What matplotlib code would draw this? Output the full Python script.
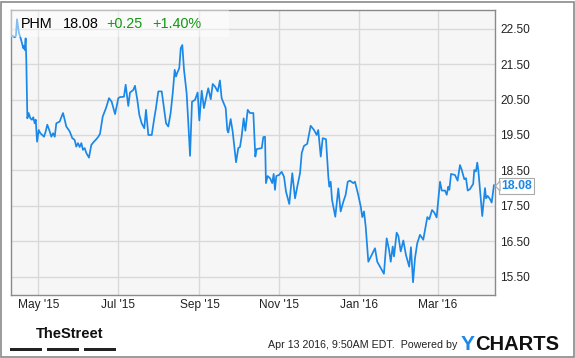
import pandas as pd
import matplotlib
matplotlib.use('Agg')
from matplotlib import pyplot as plt
import matplotlib.dates as mdates
from matplotlib.patches import Rectangle, Polygon

plt.rcParams['font.family'] = ['Liberation Sans', 'DejaVu Sans']

# days after 2015-04-10 and closing price
start = pd.Timestamp('2015-04-10')
days = [0, 3.1, 4.0, 4.8, 6.3, 7.6, 8.6, 9.6, 10.1, 10.7, 11.4, 11.9, 12.7, 13.7, 15.0,
        16.2, 17.2, 18.3, 19.1, 20.1, 21.4, 22.6, 24.1, 25.4, 26.7, 27.9, 29.4, 31.0,
        32.3, 33.6, 34.8, 37.4, 38.6, 39.9, 41.2, 42.4, 45.0, 47.0, 48.8, 50.0, 51.3,
        52.6, 53.9, 55.1, 56.4, 57.7, 59.7, 61.5, 63.5, 65.3, 66.8, 68.1, 70.2, 72.7,
        75.0, 77.0, 79.6, 82.1, 83.4, 86.4, 87.7, 89.7, 91.0, 93.5, 94.8, 96.6, 98.1,
        99.9, 101.9, 103.2, 105.0, 107.6, 109.5, 110.6, 112.6, 115.2, 116.4, 118.5,
        120.2, 122.0, 123.6, 125.1, 126.1, 127.1, 128.6, 129.7, 130.9, 132.2, 134.2,
        135.5, 136.8, 138.3, 140.6, 142.6, 143.9, 145.7, 147.4, 149.0, 150.7, 152.6,
        154.1, 155.8, 157.9, 159.6, 160.9, 162.2, 164.0, 165.2, 166.0, 167.8, 169.3,
        170.6, 171.9, 173.6, 174.9, 176.2, 177.7, 179.0, 180.8, 182.5, 185.1, 186.6,
        187.6, 191.5, 192.7, 194.0, 194.7, 196.0, 197.8, 199.5, 200.6, 201.6, 202.6,
        204.7, 206.7, 208.5, 210.0, 212.5, 214.8, 216.9, 218.6, 220.7, 222.0, 223.7,
        226.2, 228.8, 231.4, 233.4, 234.6, 236.5, 238.0, 240.5, 242.3, 243.0, 244.1,
        245.1, 247.6, 249.9, 251.7, 253.7, 255.5, 257.1, 258.8, 261.3, 262.6, 265.1,
        267.0, 268.2, 269.5, 270.8, 272.8, 274.8, 277.9, 279.6, 281.7, 284.7, 286.8,
        288.6, 289.9, 291.4, 292.4, 294.4, 295.7, 297.5, 299.5, 301.5, 304.0, 305.3,
        306.9, 308.4, 310.1, 312.2, 314.7, 317.8, 319.3, 321.4, 323.1, 324.9, 327.5,
        328.8, 331.3, 332.6, 333.8, 334.6, 335.9, 338.9, 340.9, 342.7, 344.0, 346.0,
        347.3, 348.6, 350.3, 352.8, 353.6, 354.9, 355.9, 356.7, 358.0, 359.7, 361.8,
        362.6, 363.8, 365.6, 366.9, 368.6]
price = [22.33, 22.26, 22.30, 22.77, 22.38, 22.23, 22.09, 21.95, 22.02, 21.90, 22.23,
         21.62, 19.97, 20.12, 19.97, 19.93, 20.00, 19.83, 19.93, 19.31, 19.64, 19.55,
         19.50, 19.45, 19.60, 19.79, 19.64, 19.45, 19.55, 19.45, 19.83, 19.88, 20.00,
         20.12, 19.93, 19.74, 19.60, 19.41, 19.36, 19.17, 19.27, 19.16, 19.27, 19.08,
         19.13, 18.99, 18.86, 19.22, 19.31, 19.38, 19.45, 19.53, 20.02, 20.26, 20.54,
         20.44, 20.09, 20.54, 20.57, 20.58, 20.92, 20.32, 20.70, 20.77, 20.89, 20.49,
         20.07, 19.83, 19.69, 20.21, 19.50, 19.50, 19.97, 20.21, 20.73, 20.73, 20.40,
         19.83, 19.74, 20.12, 20.68, 21.34, 21.15, 21.26, 21.39, 21.95, 22.04, 21.34,
         20.68, 19.83, 18.91, 20.44, 20.49, 20.70, 19.91, 20.75, 20.26, 20.54, 20.82,
         20.51, 20.94, 20.87, 20.73, 21.04, 20.54, 20.42, 20.26, 19.64, 19.57, 19.95,
         19.60, 19.17, 18.73, 19.13, 19.16, 19.47, 19.97, 19.62, 20.21, 20.12, 20.12,
         18.89, 19.10, 19.13, 19.44, 19.45, 18.14, 18.34, 18.28, 18.14, 18.40, 17.95,
         18.34, 18.37, 18.46, 18.32, 17.90, 17.55, 18.42, 17.71, 18.04, 18.42, 18.99,
         19.19, 19.25, 19.76, 19.64, 19.50, 19.64, 18.89, 19.41, 19.38, 18.32, 18.04,
         18.18, 17.67, 17.19, 17.99, 17.34, 17.61, 17.81, 18.18, 18.21, 18.14, 18.18,
         17.81, 17.48, 17.18, 17.34, 16.91, 15.92, 16.07, 16.30, 15.92, 15.78, 15.58,
         16.58, 16.26, 15.92, 16.35, 16.07, 16.74, 16.65, 16.21, 16.52, 16.11, 15.78,
         16.33, 15.34, 16.02, 16.44, 16.68, 16.54, 17.18, 17.12, 17.38, 17.31, 17.17,
         18.18, 17.93, 17.93, 17.81, 18.04, 17.95, 18.40, 18.37, 18.21, 18.65, 18.52,
         18.25, 18.28, 17.93, 17.97, 18.12, 18.51, 18.47, 18.72, 18.51, 17.95, 17.21,
         18.00, 17.71, 17.78, 17.69, 17.59, 18.08]

y_ticks = [15.5, 16.5, 17.5, 18.5, 19.5, 20.5, 21.5, 22.5]
ticker = 'PHM'
last = '18.08'
change = '+0.25'
change_pct = '+1.40%'
stamp = 'Apr 13 2016, 9:50AM EDT.  Powered by'

W, H = 575, 358
blue = '#1a88e8'
fig = plt.figure(figsize=(W / 100, H / 100), dpi=100)
fig.patch.set_facecolor('white')
# outer frame
fig.patches.append(Rectangle((1 / W, 1 / H), (W - 2) / W, (H - 2.5) / H, transform=fig.transFigure,
                             fill=False, edgecolor='#8a8a8a', linewidth=1.2))

ax = fig.add_axes([10.7 / W, 1 - 295 / H, 484 / W, 285 / H])
ax.set_facecolor('#f6f6f6')
dates = start + pd.to_timedelta(days, unit='D')
ax.plot(dates, price, color=blue, linewidth=1.25)

ax.set_xlim(start, start + pd.Timedelta(days=369.2))
ax.set_ylim(14.98, 23.03)
ax.set_yticks(y_ticks)
ax.set_yticklabels(['%.2f' % v for v in y_ticks])
ax.yaxis.tick_right()
ax.xaxis.set_major_locator(mdates.MonthLocator(bymonth=[1, 3, 5, 7, 9, 11]))
ax.xaxis.set_major_formatter(mdates.DateFormatter("%b '%y"))
ax.tick_params(length=0, labelsize=8.6, colors='#222222')
ax.tick_params(axis='y', pad=4)
ax.tick_params(axis='x', pad=3)
ax.grid(True, color='#d9d9d9', linewidth=1)
ax.set_axisbelow(True)
for s in ax.spines.values():
    s.set_color('#8a8a8a')
    s.set_linewidth(1)

# header band with quote
ax.add_patch(Rectangle((0, 0.905), 0.45, 0.095, transform=ax.transAxes, facecolor='white',
                       alpha=0.45, edgecolor='none', zorder=3))
hy = 1 - 23.5 / H
fig.text(20.5 / W, hy, ticker, fontsize=10.4, color='black', va='center', zorder=4)
fig.text(63 / W, hy, last, fontsize=10.4, color='black', va='center', zorder=4)
fig.text(106.5 / W, hy, change, fontsize=10.4, color='#119911', va='center', zorder=4)
fig.text(152 / W, hy, change_pct, fontsize=10.4, color='#119911', va='center', zorder=4)

# last value tag
fig.text(501 / W, 1 - 186 / H, last, fontsize=8.8, fontweight='bold', color=blue, va='center',
         bbox=dict(boxstyle='square,pad=0.2', facecolor='white', edgecolor='#aaaaaa', linewidth=0.8))
fig.patches.append(Polygon([(495.5 / W, 1 - 186 / H), (500 / W, 1 - 181 / H), (500 / W, 1 - 191 / H)],
                           closed=True, transform=fig.transFigure, facecolor='white',
                           edgecolor='#aaaaaa', linewidth=0.8, zorder=5))

# footer
fig.text(36 / W, 1 - 334 / H, 'TheStreet', fontsize=10.5, fontweight='bold', color='#111111',
         va='center', family=['Liberation Sans Narrow', 'Liberation Sans'], stretch='condensed')
for x0 in (10, 47, 84):
    fig.patches.append(Rectangle((x0 / W, 1 - 350.5 / H), 32 / W, 3 / H, transform=fig.transFigure,
                                 facecolor='#222222', edgecolor='none'))
fig.text(457 / W, 1 - 345.5 / H, stamp, fontsize=7.7, color='#222222', va='center', ha='right')
fig.text(461 / W, 1 - 344 / H, 'Y', fontsize=15, fontweight='bold', color=blue, va='center')
fig.text(475 / W, 1 - 344 / H, 'CHARTS', fontsize=14.5, fontweight='bold', color='#111111', va='center')

fig.savefig('out.png', dpi=100)
